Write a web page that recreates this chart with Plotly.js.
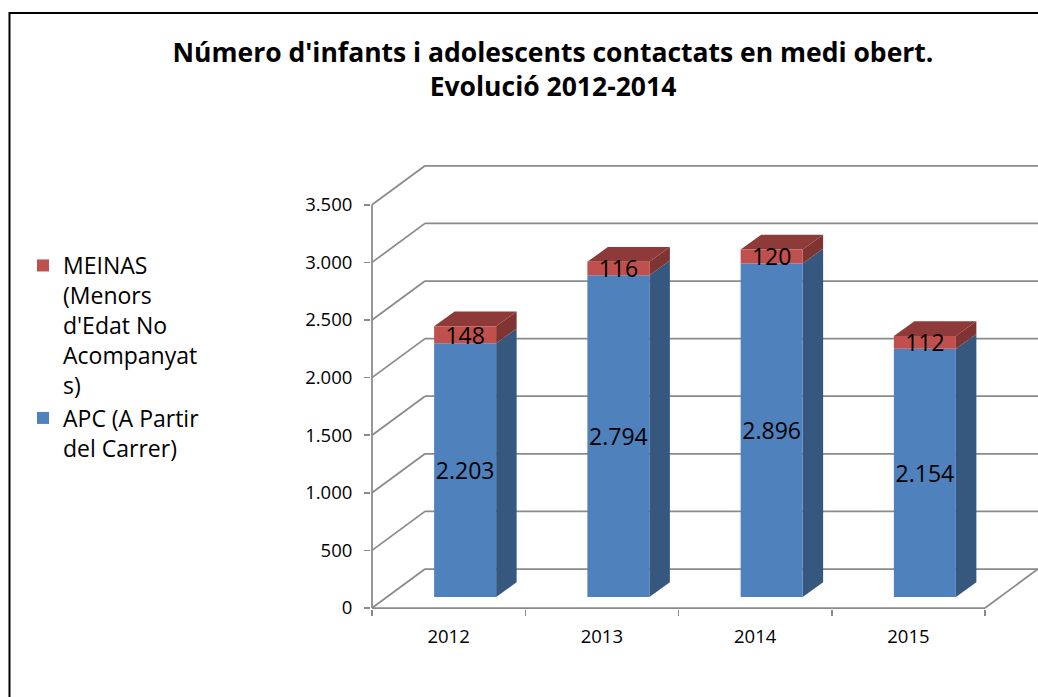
<!DOCTYPE html>
<html>
<head>
<meta charset="utf-8">
<script src="https://cdn.plot.ly/plotly-3.0.1.min.js"></script>
<style>html,body{margin:0;padding:0;background:#fff;}#chart{width:1038px;height:697px;}</style>
</head>
<body>
<div id="chart"></div>
<script>
// ---- data ----
const years = ['2012', '2013', '2014', '2015'];
const apc = [2203, 2794, 2896, 2154];
const meinas = [148, 116, 120, 112];
const seriesNames = ["MEINAS<br>(Menors<br>d'Edat No<br>Acompanyat<br>s)", "APC (A Partir<br>del Carrer)"];
const yTickVals = [0, 500, 1000, 1500, 2000, 2500, 3000, 3500];
const yTickText = ['0', '500', '1.000', '1.500', '2.000', '2.500', '3.000', '3.500'];
const titleText = "Número d'infants i adolescents contactats en medi obert.<br>Evolució 2012-2014";

// ---- oblique projection offsets (axis units) ----
const FDX = 0.1077, FDY = 95.5;   // bar front plane offset
const BW = 0.4046;                // bar width
const SDX = 0.1338, SDY = 128;    // bar depth
const BDX = 0.3458, BDY = 338.5;  // back wall offset
const XMIN = -0.5065, XMAX = 3.8458, YMIN = -8.7, YMAX = 3889;

const FONT = 'Open Sans';
const BLUE = '#4F81BD', BLUE_SIDE = '#36587F';
const RED = '#C0504D', RED_TOP = '#8E3A39', RED_SIDE = '#7F3432';
const GRID = '#8a8a8a';

const xs = years.map((_, i) => i + FDX);
const baseApc = years.map(() => FDY);
const baseMei = apc.map(v => FDY + v);

const traces = [
  {
    type: 'bar', name: seriesNames[1], x: xs, y: apc, base: baseApc, width: BW,
    marker: {color: BLUE, line: {width: 0}},
    texttemplate: '%{y:,.0f}', textposition: 'inside', insidetextanchor: 'middle',
    textangle: 0, constraintext: 'none',
    insidetextfont: {family: FONT, size: 23, color: '#000'},
    hoverinfo: 'skip'
  },
  {
    type: 'bar', name: seriesNames[0], x: xs, y: meinas, base: baseMei, width: BW,
    marker: {color: RED, line: {width: 0}},
    texttemplate: '%{y:,.0f}', textposition: 'inside', insidetextanchor: 'middle',
    textangle: 0, constraintext: 'none',
    insidetextfont: {family: FONT, size: 23, color: '#000'},
    hoverinfo: 'skip'
  },
  {
    // front floor edge (carries the boundary tick axis)
    type: 'scatter', mode: 'lines', x: [-0.5, years.length - 0.5], y: [0, 0],
    xaxis: 'x2', yaxis: 'y', line: {color: GRID, width: 1.75},
    showlegend: false, hoverinfo: 'skip'
  }
];

// ---- shapes: walls, gridlines, bar sides ----
const shapes = [];
const gl = (x0, y0, x1, y1) => shapes.push({type: 'line', xref: 'x', yref: 'y', x0, y0, x1, y1,
  line: {color: GRID, width: 1.75}, layer: 'below'});
const xL = -0.5, xR = years.length - 0.5;
yTickVals.forEach(v => {
  gl(xL + BDX, v + BDY, xR + BDX, v + BDY);   // back wall gridline
  gl(xL, v, xL + BDX, v + BDY);               // side wall diagonal
});
gl(xR, 0, xR + BDX, BDY);                     // right floor edge
gl(xL, 0, xL, yTickVals[yTickVals.length - 1]); // vertical axis line

const poly = (pts, color) => shapes.push({type: 'path', xref: 'x', yref: 'y', layer: 'below',
  path: 'M' + pts.map(p => p[0] + ',' + p[1]).join('L') + 'Z',
  fillcolor: color, line: {width: 0}});
years.forEach((_, i) => {
  const xl = xs[i] - BW / 2, xr = xs[i] + BW / 2;
  const y0 = baseApc[i], y1 = baseMei[i], y2 = baseMei[i] + meinas[i];
  poly([[xr, y0], [xr + SDX, y0 + SDY], [xr + SDX, y1 + SDY], [xr, y1]], BLUE_SIDE);
  poly([[xr, y1], [xr + SDX, y1 + SDY], [xr + SDX, y2 + SDY], [xr, y2]], RED_SIDE);
  poly([[xl, y2], [xl + SDX, y2 + SDY], [xr + SDX, y2 + SDY], [xr, y2]], RED_TOP);
});
// chart frame
shapes.push({type: 'rect', xref: 'paper', yref: 'paper', x0: -0.542, x1: 1.02, y0: -0.22, y1: 1.3274,
  line: {color: '#000', width: 2}, fillcolor: 'rgba(0,0,0,0)', layer: 'above'});

const layout = {
  width: 1038, height: 697,
  margin: {l: 371, r: 0, t: 160, b: 88, pad: 0},
  paper_bgcolor: '#fff', plot_bgcolor: 'rgba(0,0,0,0)',
  separators: ',.',
  font: {family: FONT, color: '#000'},
  barmode: 'overlay',
  showlegend: true,
  title: {
    text: titleText, x: 553 / 1038, xanchor: 'center', y: 1 - 62 / 697, yanchor: 'middle',
    font: {family: FONT, size: 26.5, weight: 700, color: '#000'}
  },
  xaxis: {
    range: [XMIN, XMAX], tickvals: years.map((_, i) => i), ticktext: years,
    ticks: '', showgrid: false, zeroline: false, showline: false,
    tickfont: {family: FONT, size: 18.5, color: '#000'}, ticklabelstandoff: 14, fixedrange: true
  },
  xaxis2: {
    overlaying: 'x', anchor: 'y', side: 'bottom', range: [XMIN, XMAX],
    tickvals: years.map((_, i) => i - 0.5).concat([years.length - 0.5]),
    ticks: 'outside', ticklen: 6, tickwidth: 1.5, tickcolor: GRID,
    showticklabels: false, showgrid: false, zeroline: false, showline: false, fixedrange: true
  },
  yaxis: {
    range: [YMIN, YMAX], tickvals: yTickVals, ticktext: yTickText,
    ticks: 'outside', ticklen: 6, tickwidth: 1.5, tickcolor: GRID,
    showgrid: false, zeroline: false, showline: false,
    tickfont: {family: FONT, size: 18.5, color: '#000'}, ticklabelstandoff: 8, fixedrange: true
  },
  legend: {
    x: (23 - 371) / 667, xanchor: 'left', y: (609 - 244) / 449, yanchor: 'top',
    traceorder: 'reversed', valign: 'top', bgcolor: 'rgba(0,0,0,0)',
    font: {family: FONT, size: 23, color: '#000'}, tracegroupgap: 0
  },
  shapes: shapes
};

Plotly.newPlot('chart', traces, layout, {displayModeBar: false, staticPlot: true});
</script>
</body>
</html>
